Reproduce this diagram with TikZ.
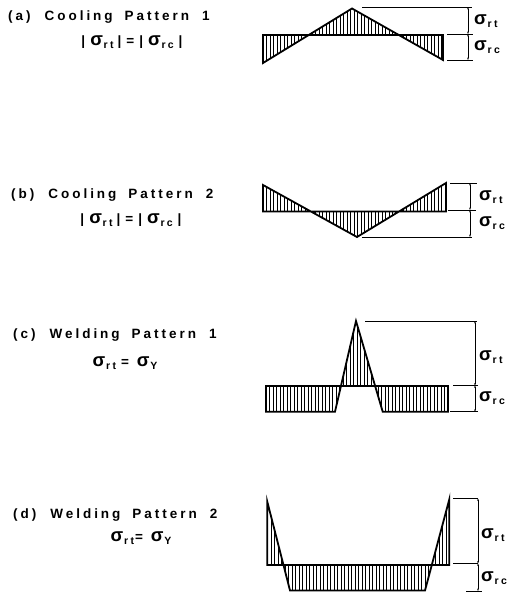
\documentclass[tikz,border=0pt]{standalone}
\usepackage{fontspec}
\setmainfont{Liberation Sans}
\newfontfamily\lettering{Liberation Sans Bold}[LetterSpace=22]
\usetikzlibrary{arrows.meta}
% stress symbol with subscript
\newcommand{\sig}[1]{{\fontsize{18.5}{18.5}\selectfont\bfseries σ}\kern0.8pt\raisebox{-2.8pt}{\fontsize{10.5}{10.5}\selectfont\lettering #1}}

\begin{document}
\begin{tikzpicture}[x=1pt, y=-1pt,
  outline/.style={line width=1.8pt, line join=miter},
  hatch/.style={line width=0.5pt},
  dimline/.style={line width=0.55pt},
  dimarrow/.style={line width=0.55pt, {Stealth[length=2.5pt,width=1.8pt]}-{Stealth[length=2.5pt,width=1.8pt]}},
  title/.style={anchor=west, inner sep=0pt, font=\fontsize{13.5}{14}\selectfont\lettering},
  eqn/.style={inner sep=0pt, font=\fontsize{13.5}{14}\selectfont\lettering},
  siglabel/.style={anchor=west, inner sep=0pt}]
  \useasboundingbox (0,0) rectangle (509,592);

  % (a) Cooling pattern 1
  \node[title] (titleA) at (8,17) {(a)\hspace{14pt}Cooling\hspace{12pt}Pattern\hspace{13pt}1};
  \node[eqn] (eqA) at (132,42) {|\hspace{5pt}\sig{rt}\hspace{4pt}|\hspace{5pt}=\hspace{5pt}|\hspace{5pt}\sig{rc}\hspace{5pt}|};
  \begin{scope}
    \clip (263,35) -- (263,63) -- (352,8.5) -- (443,60) -- (443,35) -- cycle;
    \foreach \x in {263,266.5,...,444} \draw[hatch] (\x,0) -- (\x,70);
  \end{scope}
  \draw[outline] (263,35) -- (263,63) -- (352,8.5) -- (443,60) -- (443,35) -- cycle;
  \draw[dimline] (362,7) -- (472,7);
  \draw[dimline] (447,34) -- (473,34);
  \draw[dimline] (447,60) -- (473,60);
  \draw[dimarrow] (468,7) -- (468,34);
  \draw[dimarrow] (468,34) -- (468,60);
  \node[siglabel] (rtA) at (474,21) {\sig{rt}};
  \node[siglabel] (rcA) at (474,47) {\sig{rc}};

  % (b) Cooling pattern 2
  \node[title] (titleB) at (11,195) {(b)\hspace{14pt}Cooling\hspace{12pt}Pattern\hspace{13pt}2};
  \node[eqn] (eqB) at (131,220) {|\hspace{5pt}\sig{rt}\hspace{4pt}|\hspace{5pt}=\hspace{5pt}|\hspace{5pt}\sig{rc}\hspace{5pt}|};
  \begin{scope}
    \clip (263,211.5) -- (263,185) -- (357,237) -- (446,183) -- (446,211.5) -- cycle;
    \foreach \x in {263,266.5,...,447} \draw[hatch] (\x,178) -- (\x,240);
  \end{scope}
  \draw[outline] (263,211.5) -- (263,185) -- (357,237) -- (446,183) -- (446,211.5) -- cycle;
  \draw[dimline] (450,183) -- (477,183);
  \draw[dimline] (448,210) -- (476,210);
  \draw[dimline] (362,237) -- (472,237);
  \draw[dimarrow] (470,183) -- (470,210);
  \draw[dimarrow] (470,210) -- (470,237);
  \node[siglabel] (rtB) at (479,197) {\sig{rt}};
  \node[siglabel] (rcB) at (479,223) {\sig{rc}};

  % (c) Welding pattern 1
  \node[title] (titleC) at (13,335) {(c)\hspace{14pt}Welding\hspace{12pt}Pattern\hspace{13pt}1};
  \node[eqn] (eqC) at (125,363) {\sig{rt}\hspace{5pt}=\hspace{8pt}\sig{Y}};
  \begin{scope}
    \clip (266,386) -- (266,411.7) -- (335,411.7) -- (356,321) -- (382.7,411.7) -- (448,411.7) -- (448,386) -- cycle;
    \foreach \x in {266,269.5,...,449} \draw[hatch] (\x,318) -- (\x,415);
  \end{scope}
  \draw[outline] (266,386) -- (266,411.7) -- (335,411.7) -- (356,321) -- (382.7,411.7) -- (448,411.7) -- (448,386) -- cycle;
  \draw[dimline] (365,321) -- (477,321);
  \draw[dimline] (453,385.5) -- (478,385.5);
  \draw[dimline] (450,411.7) -- (478,411.7);
  \draw[dimarrow] (475,321) -- (475,385.5);
  \draw[dimarrow] (475,385.5) -- (475,411.7);
  \node[siglabel] (rtC) at (479,357) {\sig{rt}};
  \node[siglabel] (rcC) at (479,398) {\sig{rc}};

  % (d) Welding pattern 2
  \node[title] (titleD) at (13,515) {(d)\hspace{14pt}Welding\hspace{12pt}Pattern\hspace{13pt}2};
  \node[eqn] (eqD) at (141,538) {\sig{rt}\hspace{1pt}=\hspace{8pt}\sig{Y}};
  \begin{scope}
    \clip (267.3,565) -- (267.3,501.7) -- (290,590.5) -- (425,590.5) -- (449.3,499.3) -- (449.3,565) -- cycle;
    \foreach \x in {267.3,270.8,...,450} \draw[hatch] (\x,495) -- (\x,592);
  \end{scope}
  \draw[outline] (267.3,565) -- (267.3,501.7) -- (290,590.5) -- (425,590.5) -- (449.3,499.3) -- (449.3,565) -- cycle;
  \draw[dimline] (453,498.5) -- (478,498.5);
  \draw[dimline] (453,563.5) -- (478,563.5);
  \draw[dimline] (466,591) -- (482,591);
  \draw[dimarrow] (478,498.5) -- (478,563.5);
  \draw[dimarrow] (478,563.5) -- (478,591);
  \node[siglabel] (rtD) at (481,535) {\sig{rt}};
  \node[siglabel] (rcD) at (481,578) {\sig{rc}};
\end{tikzpicture}
\end{document}
